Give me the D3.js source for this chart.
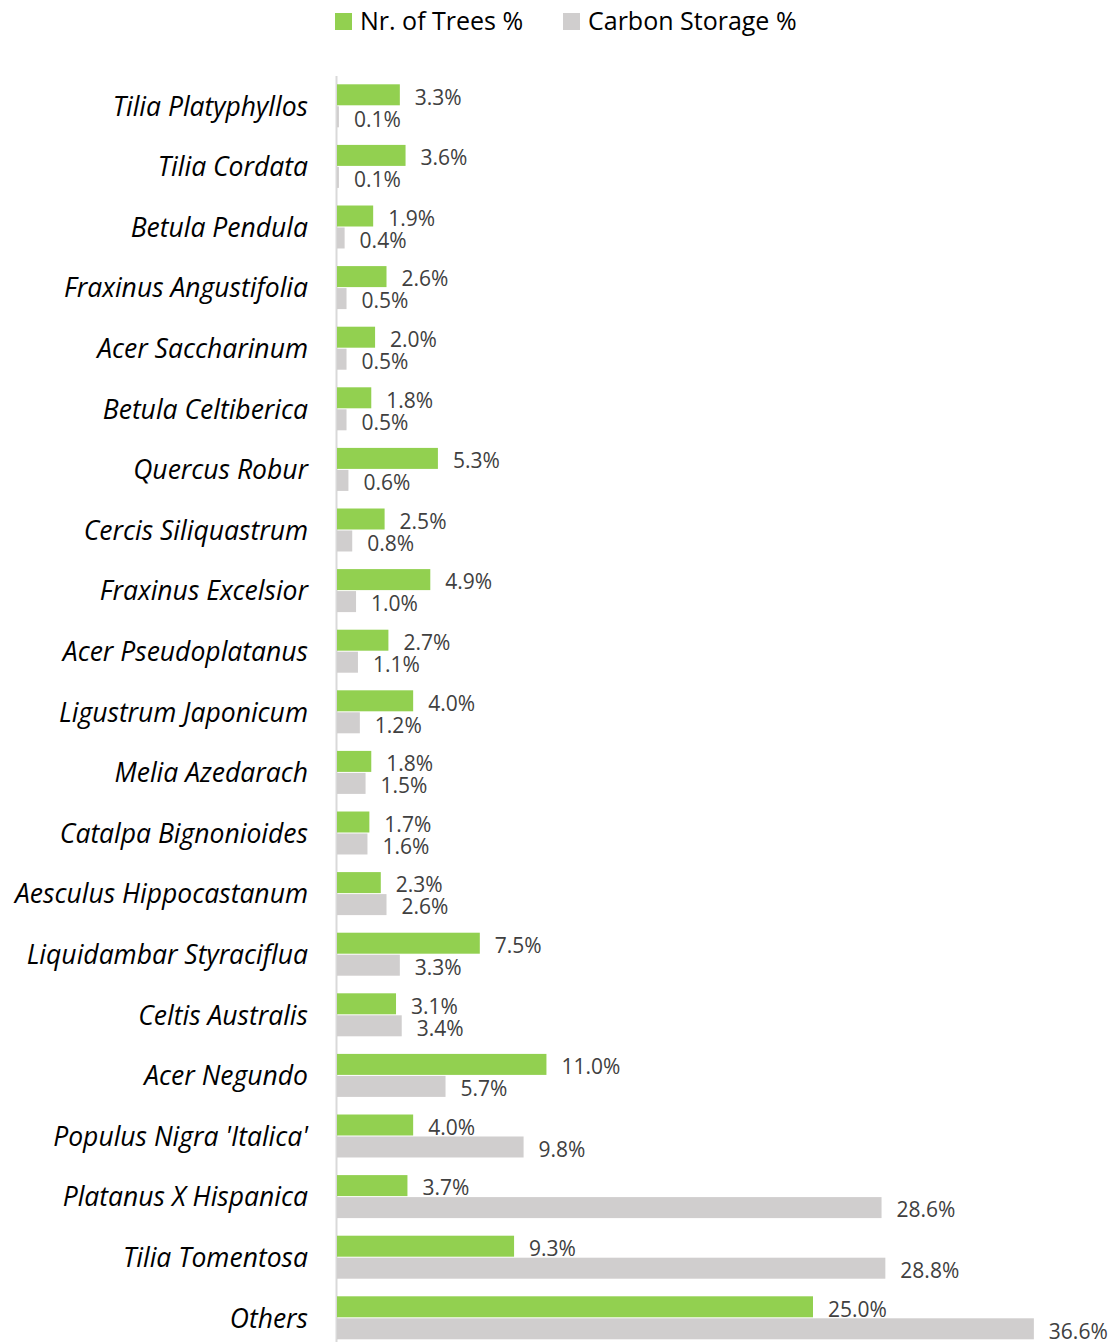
<!DOCTYPE html>
<html>
<head>
<meta charset="utf-8">
<script src="https://cdn.jsdelivr.net/npm/d3@7"></script>
<style>
  html, body { margin: 0; padding: 0; background: #fff; }
  svg { display: block; }
  text { font-family: "Open Sans", "Noto Sans", sans-serif; }
</style>
</head>
<body>
<svg id="chart" width="1117" height="1342"></svg>
<script>
// Tree species, top to bottom
const species = [
  "Tilia Platyphyllos", "Tilia Cordata", "Betula Pendula", "Fraxinus Angustifolia",
  "Acer Saccharinum", "Betula Celtiberica", "Quercus Robur", "Cercis Siliquastrum",
  "Fraxinus Excelsior", "Acer Pseudoplatanus", "Ligustrum Japonicum", "Melia Azedarach",
  "Catalpa Bignonioides", "Aesculus Hippocastanum", "Liquidambar Styraciflua",
  "Celtis Australis", "Acer Negundo", "Populus Nigra 'Italica'", "Platanus X Hispanica",
  "Tilia Tomentosa", "Others"
];
// Share of the tree count (%)
const treesPct = [3.3, 3.6, 1.9, 2.6, 2.0, 1.8, 5.3, 2.5, 4.9, 2.7, 4.0, 1.8, 1.7, 2.3, 7.5, 3.1, 11.0, 4.0, 3.7, 9.3, 25.0];
// Share of stored carbon (%)
const carbonPct = [0.1, 0.1, 0.4, 0.5, 0.5, 0.5, 0.6, 0.8, 1.0, 1.1, 1.2, 1.5, 1.6, 2.6, 3.3, 3.4, 5.7, 9.8, 28.6, 28.8, 36.6];

const seriesNames = ["Nr. of Trees %", "Carbon Storage %"];
const seriesColors = ["#92D050", "#D0CECE"];

const rows = species.map((s, i) => ({ name: s, values: [treesPct[i], carbonPct[i]] }));

const svg = d3.select("#chart");
const x0 = 337;

const x = d3.scaleLinear().domain([0, 40]).range([x0, x0 + 761.6]);
const y = d3.scaleBand().domain(species).range([76, 1348.6])
  .paddingInner(0.274).paddingOuter(0.137);
const ySub = d3.scaleBand().domain([0, 1]).range([0, y.bandwidth()]);

// Category axis line
svg.append("line")
  .attr("x1", 336.5).attr("x2", 336.5)
  .attr("y1", 76).attr("y2", 1342)
  .attr("stroke", "#D9D9D9").attr("stroke-width", 2);

// Category labels
svg.append("g").selectAll("text").data(rows).join("text")
  .attr("x", 308)
  .attr("y", d => y(d.name) + y.bandwidth() / 2)
  .attr("dy", "0.35em")
  .attr("text-anchor", "end")
  .attr("font-style", "italic")
  .attr("font-size", 26.5)
  .attr("fill", "#000")
  .text(d => d.name);

// Bars and value labels
const groups = svg.append("g").selectAll("g").data(rows).join("g")
  .attr("transform", d => `translate(0,${y(d.name)})`);

groups.selectAll("rect").data(d => d.values).join("rect")
  .attr("x", x(0))
  .attr("y", (v, i) => ySub(i))
  .attr("width", v => x(v) - x(0))
  .attr("height", ySub.bandwidth() - 1)
  .attr("fill", (v, i) => seriesColors[i]);

groups.selectAll("text").data(d => d.values).join("text")
  .attr("x", v => x(v) + 15)
  .attr("y", (v, i) => ySub(i) + ySub.bandwidth() / 2 + 2)
  .attr("dy", "0.35em")
  .attr("font-size", 21)
  .attr("fill", "#404040")
  .text(v => v.toFixed(1) + "%");

// Legend
const legendX = [335, 563];
const legend = svg.append("g").selectAll("g").data(seriesNames).join("g")
  .attr("transform", (d, i) => `translate(${legendX[i]},13)`);
legend.append("rect")
  .attr("width", 17).attr("height", 17)
  .attr("fill", (d, i) => seriesColors[i]);
legend.append("text")
  .attr("x", 25).attr("y", 8.5).attr("dy", "0.35em")
  .attr("font-size", 25)
  .attr("fill", "#000")
  .text(d => d);
</script>
</body>
</html>
